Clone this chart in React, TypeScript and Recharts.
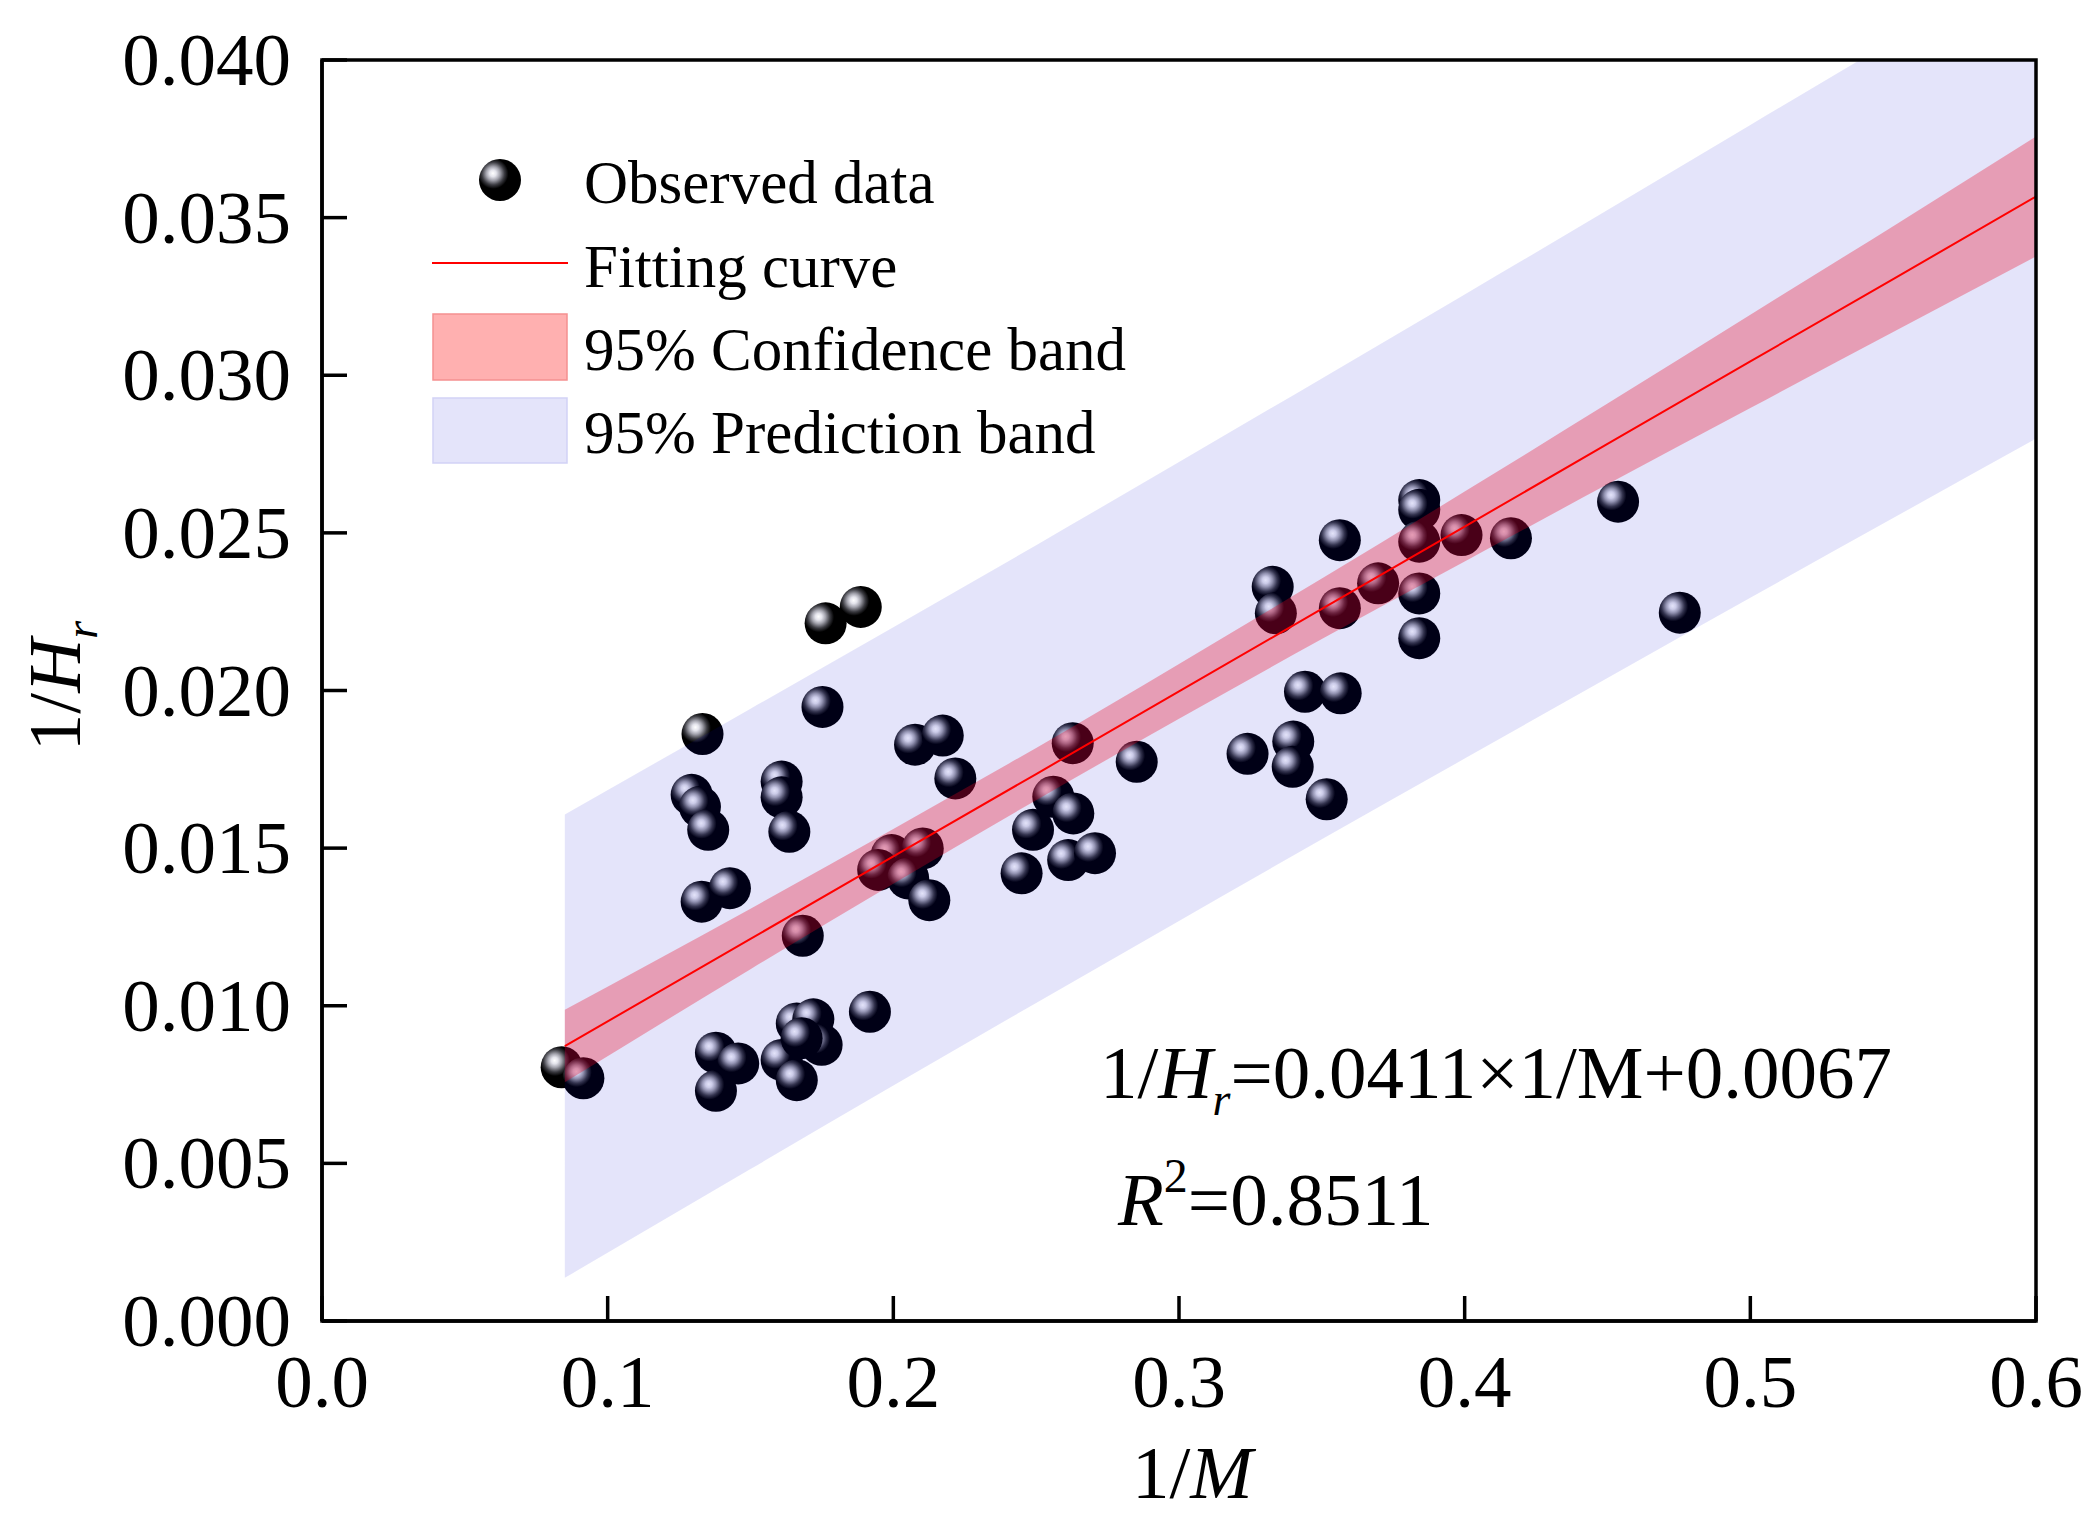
import React from 'react';
import {
  ComposedChart,
  Area,
  Line,
  Scatter,
  XAxis,
  YAxis,
  ReferenceArea,
} from 'recharts';

const FONT = "'Liberation Serif', 'Times New Roman', serif";

// axis ticks
const xTicks = [0, 0.1, 0.2, 0.3, 0.4, 0.5, 0.6];
const yTicks = [0, 0.005, 0.01, 0.015, 0.02, 0.025, 0.03, 0.035, 0.04];

// fitted line and the two bands, sampled along 1/M
const bandX = [0.085, 0.15, 0.2, 0.25, 0.3, 0.35, 0.4, 0.45, 0.5, 0.55, 0.6];
const fitY = [0.00872, 0.01212, 0.01474, 0.01735, 0.01997, 0.02259, 0.0252, 0.02782, 0.03044, 0.03305, 0.03567];
const confLow = [0.00757, 0.01116, 0.01387, 0.01652, 0.0191, 0.02163, 0.02409, 0.02654, 0.02896, 0.03137, 0.03377];
const confHigh = [0.00987, 0.01308, 0.01561, 0.01818, 0.02084, 0.02355, 0.02631, 0.0291, 0.03192, 0.03473, 0.03757];
const predLow = [0.00137, 0.00482, 0.00747, 0.01009, 0.01269, 0.01528, 0.01784, 0.0204, 0.02294, 0.02547, 0.02799];
const predHigh = [0.01607, 0.01942, 0.02201, 0.02461, 0.02725, 0.0299, 0.03256, 0.03524, 0.03794, 0.04063, 0.04335];

// observed data (1/M, 1/Hr)
const obsX = [
  0.1886, 0.1763, 0.1752, 0.1332, 0.2076, 0.2173, 0.2217,
  0.1294, 0.1323, 0.1352, 0.1609, 0.1609, 0.1636, 0.1329, 0.1428,
  0.1683,
  0.1994, 0.2103, 0.1947, 0.2052, 0.2126, 0.2449, 0.2489,
  0.256, 0.263, 0.2612, 0.2706, 0.2628, 0.2852,
  0.324, 0.34, 0.3398, 0.3517, 0.3441, 0.3566,
  0.3328, 0.3339, 0.3563, 0.3563, 0.3697,
  0.3841, 0.3841, 0.3841, 0.3841, 0.3841, 0.3989,
  0.4162, 0.4537, 0.4753,
  0.0839, 0.0915, 0.1379, 0.1457, 0.1379, 0.1609, 0.1662, 0.1662, 0.172, 0.1749, 0.1679, 0.1918,
];
const obsY = [
  0.02265, 0.02213, 0.01948, 0.01862, 0.01828, 0.01857, 0.01721,
  0.01669, 0.01631, 0.01558, 0.01711, 0.01661, 0.01552, 0.0133, 0.01373,
  0.01222,
  0.01478, 0.01499, 0.01431, 0.01404, 0.01335, 0.0142, 0.01558,
  0.01663, 0.0161, 0.01462, 0.01484, 0.01833, 0.01774,
  0.01799, 0.01838, 0.01758, 0.01655, 0.01996, 0.01991,
  0.02329, 0.02245, 0.02477, 0.02261, 0.0234,
  0.02604, 0.02573, 0.02472, 0.02308, 0.02166, 0.02493,
  0.02483, 0.02599, 0.02247,
  0.00805, 0.0077, 0.00851, 0.00817, 0.0073, 0.00828, 0.00764, 0.00944, 0.00957, 0.00876, 0.00897, 0.00981,
];

const bandRows = bandX.map((x, i) => ({
  x,
  fit: fitY[i],
  conf: [confLow[i], confHigh[i]],
  pred: [predLow[i], predHigh[i]],
}));

const observed = obsX.map((x, i) => ({ x, y: obsY[i] }));

const Sphere = (props: any) => {
  const { cx, cy } = props;
  if (cx == null || cy == null) return null;
  return <circle cx={cx} cy={cy} r={21} fill="url(#sphereGrad)" />;
};

// inward tick mark + label
const XTick = (props: any) => {
  const { x, y, payload } = props;
  return (
    <g>
      <line x1={x} y1={y - 25} x2={x} y2={y} stroke="#000" strokeWidth={3.5} />
      <text x={x} y={y + 86} textAnchor="middle" fontFamily={FONT} fontSize={75} fill="#000">
        {Number(payload.value).toFixed(1)}
      </text>
    </g>
  );
};

const YTick = (props: any) => {
  const { x, y, payload } = props;
  return (
    <g>
      <line x1={x} y1={y} x2={x + 25} y2={y} stroke="#000" strokeWidth={3.5} />
      <text x={x - 31} y={y + 25} textAnchor="end" fontFamily={FONT} fontSize={75} fill="#000">
        {Number(payload.value).toFixed(3)}
      </text>
    </g>
  );
};

export default function App() {
  return (
    <div style={{ position: 'absolute', left: 0, top: 0, width: 2086, height: 1519, background: '#fff' }}>
      <ComposedChart
        width={2086}
        height={1519}
        data={bandRows}
        margin={{ top: 60, right: 50, bottom: 48, left: 22 }}
      >
        <XAxis
          dataKey="x"
          type="number"
          domain={[0, 0.6]}
          ticks={xTicks}
          interval={0}
          allowDataOverflow
          height={150}
          tickSize={0}
          tickMargin={0}
          tick={XTick}
          axisLine={{ stroke: '#000', strokeWidth: 3.5 }}
          tickLine={false}
        />
        <YAxis
          type="number"
          domain={[0, 0.04]}
          ticks={yTicks}
          interval={0}
          allowDataOverflow
          width={300}
          tickSize={0}
          tickMargin={0}
          tick={YTick}
          axisLine={{ stroke: '#000', strokeWidth: 3.5 }}
          tickLine={false}
        />
        <Scatter
          data={observed}
          dataKey="y"
          shape={Sphere}
          zIndex={50}
          isAnimationActive={false}
        />
        <Area
          dataKey="pred"
          type="monotone"
          stroke="none"
          fill="#0000D0"
          fillOpacity={0.106}
          zIndex={100}
          isAnimationActive={false}
        />
        <Area
          dataKey="conf"
          type="monotone"
          stroke="none"
          fill="#EB001E"
          fillOpacity={0.31}
          zIndex={110}
          isAnimationActive={false}
        />
        <Line
          dataKey="fit"
          type="linear"
          stroke="#FF0000"
          strokeWidth={2}
          dot={false}
          zIndex={150}
          isAnimationActive={false}
        />
        <ReferenceArea
          x1={0}
          x2={0.6}
          y1={0}
          y2={0.04}
          fill="none"
          fillOpacity={0}
          stroke="#000"
          strokeWidth={3.5}
          ifOverflow="visible"
          zIndex={600}
        />
      </ComposedChart>

      <svg
        width={2086}
        height={1519}
        style={{ position: 'absolute', left: 0, top: 0, pointerEvents: 'none' }}
        fontFamily={FONT}
      >
        <defs>
          <radialGradient id="sphereGrad" cx="0.34" cy="0.35" r="0.36" fx="0.33" fy="0.34">
            <stop offset="0%" stopColor="#ffffff" />
            <stop offset="22%" stopColor="#e4e4ec" />
            <stop offset="45%" stopColor="#a4a4ae" />
            <stop offset="75%" stopColor="#3a3a40" />
            <stop offset="100%" stopColor="#000000" />
          </radialGradient>
        </defs>

        {/* legend */}
        <circle cx={500} cy={180} r={21} fill="url(#sphereGrad)" />
        <text x={584} y={203} fontSize={61}>Observed data</text>
        <line x1={432} y1={263} x2={568} y2={263} stroke="#FF0000" strokeWidth={2} />
        <text x={584} y={287} fontSize={61}>Fitting curve</text>
        <rect x={433} y={314} width={134} height={66} fill="#FFB0B0" stroke="#F59090" strokeWidth={1.5} />
        <text x={584} y={370} fontSize={61}>95% Confidence band</text>
        <rect x={433} y={398} width={134} height={65} fill="#E4E4FA" stroke="#D2D2F6" strokeWidth={1.5} />
        <text x={584} y={453} fontSize={61}>95% Prediction band</text>

        {/* equation */}
        <text x={1100} y={1098} fontSize={75}>
          1/<tspan fontStyle="italic">H</tspan>
          <tspan fontStyle="italic" fontSize={46} dy={17}>r</tspan>
          <tspan dy={-17}>=0.0411×1/M+0.0067</tspan>
        </text>
        <text x={1118} y={1225} fontSize={75}>
          <tspan fontStyle="italic">R</tspan>
          <tspan fontSize={48} dy={-33}>2</tspan>
          <tspan dy={33}>=0.8511</tspan>
        </text>

        {/* axis titles */}
        <text x={1132} y={1498} fontSize={75}>
          1/<tspan fontStyle="italic">M</tspan>
        </text>
        <text transform="translate(80,686) rotate(-90)" textAnchor="middle" fontSize={75}>
          1/<tspan fontStyle="italic">H</tspan>
          <tspan fontStyle="italic" fontSize={46} dy={17}>r</tspan>
        </text>
      </svg>
    </div>
  );
}
